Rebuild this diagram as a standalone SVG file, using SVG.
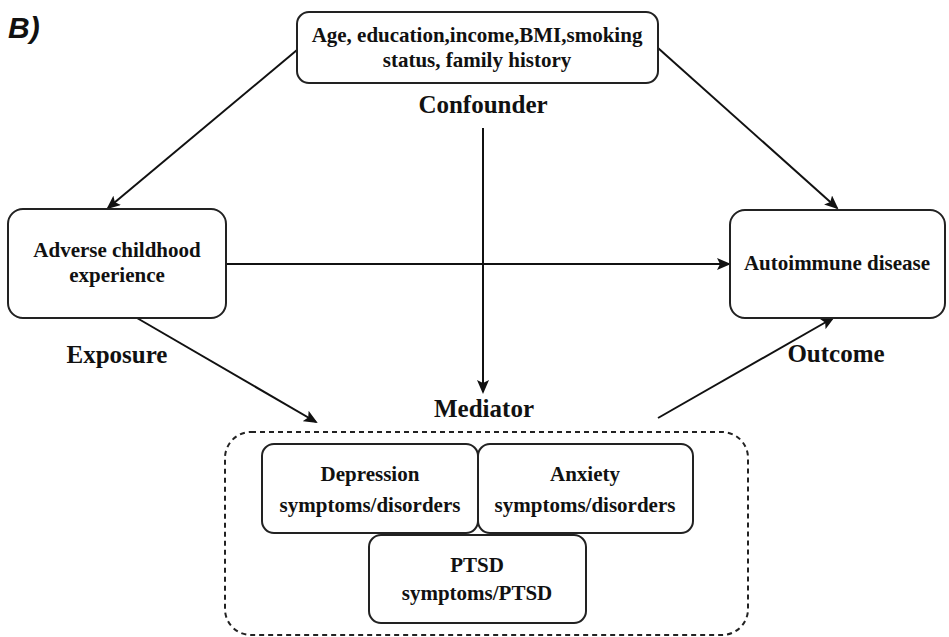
<svg xmlns="http://www.w3.org/2000/svg" width="949" height="637" viewBox="0 0 949 637">
<style>
.box{fill:#fff;stroke:#222;stroke-width:2}
.t{font-family:"Liberation Serif","Times New Roman",serif;font-weight:bold;fill:#111;text-anchor:middle}
.s21{font-size:21px}
.s25{font-size:25px}
.conn line{stroke:#111;stroke-width:2;fill:none}
.arr{marker-end:url(#ah)}
</style>
<defs>
<marker id="ah" viewBox="0 -6 14 12" refX="12" refY="0" markerWidth="14" markerHeight="12" markerUnits="userSpaceOnUse" orient="auto">
<path d="M0,-6 L14,0 L0,6 L3,0 Z" fill="#111"/>
</marker>
</defs>
<rect width="949" height="637" fill="#fff"/>
<text x="8" y="38" font-family="Liberation Sans,Arial,sans-serif" font-weight="bold" font-style="italic" font-size="30" fill="#111">B)</text>

<g id="connectors" class="conn">
<line class="arr" x1="297" y1="50" x2="108" y2="208"/>
<line class="arr" x1="658" y1="48" x2="837" y2="208"/>
<line class="arr" x1="483" y1="128" x2="483" y2="392"/>
<line class="arr" x1="226" y1="264" x2="729" y2="264"/>
<line class="arr" x1="137" y1="318" x2="316" y2="422"/>
<line class="arr" x1="658" y1="418" x2="833" y2="318"/>
</g>

<g id="confounder">
<rect class="box" x="297" y="12" width="361" height="71" rx="12"/>
<text class="t s21" x="477" y="42">Age, education,income,BMI,smoking</text>
<text class="t s21" x="477" y="67">status, family history</text>
<text class="t s25" x="483" y="113">Confounder</text>
</g>

<g id="exposure">
<rect class="box" x="8" y="209" width="218" height="109" rx="15"/>
<text class="t s21" x="117" y="257">Adverse childhood</text>
<text class="t s21" x="117" y="282">experience</text>
<text class="t s25" x="117" y="363">Exposure</text>
</g>

<g id="outcome">
<rect class="box" x="730" y="210" width="215" height="108" rx="15"/>
<text class="t s21" x="837" y="270">Autoimmune disease</text>
<text class="t s25" x="836" y="362">Outcome</text>
</g>

<g id="mediator">
<text class="t s25" x="484" y="417">Mediator</text>
<rect x="225" y="432" width="523" height="203" rx="26" fill="none" stroke="#222" stroke-width="2" stroke-dasharray="5,4"/>
</g>

<g id="depression">
<rect class="box" x="262" y="444" width="216" height="89" rx="12"/>
<text class="t s21" x="370" y="481">Depression</text>
<text class="t s21" x="370" y="512">symptoms/disorders</text>
</g>

<g id="anxiety">
<rect class="box" x="478" y="444" width="215" height="89" rx="12"/>
<text class="t s21" x="585" y="481">Anxiety</text>
<text class="t s21" x="585" y="512">symptoms/disorders</text>
</g>

<g id="ptsd">
<rect class="box" x="369" y="535" width="217" height="88" rx="12"/>
<text class="t s21" x="477" y="572">PTSD</text>
<text class="t s21" x="477" y="600">symptoms/PTSD</text>
</g>
</svg>
